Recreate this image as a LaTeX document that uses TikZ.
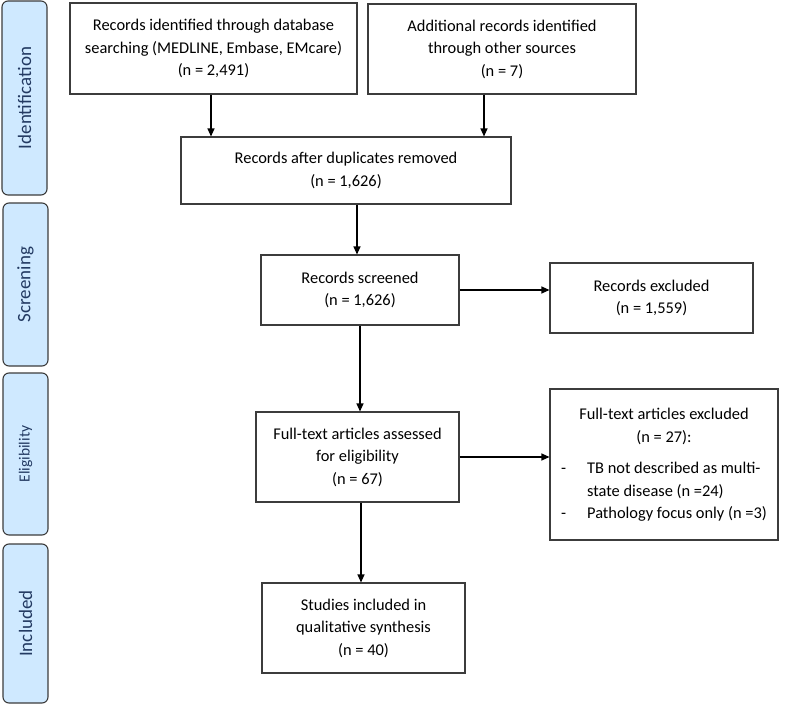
\documentclass[tikz,border=0pt]{standalone}
\usepackage{fontspec}
\setmainfont{Carlito}
\usepackage{tikz}
\usetikzlibrary{arrows.meta}

\definecolor{phasefill}{RGB}{207,233,255}
\definecolor{phasetext}{RGB}{35,58,98}
\definecolor{boxline}{RGB}{60,60,60}

\tikzset{
    flowbox/.style={draw=boxline, line width=1.1pt, align=center, inner sep=0pt,
        font=\fontsize{16.4}{22.5}\selectfont},
    phase/.style={draw=boxline, line width=1.1pt, fill=phasefill, rounded corners=6pt,
        rotate=90, inner sep=0pt, minimum height=45pt, text=phasetext},
    flowarrow/.style={-{Triangle[length=8pt,width=7pt]}, line width=1.2pt}
}

\begin{document}
\begin{tikzpicture}[x=1pt,y=-1pt]
    \useasboundingbox (0,0) rectangle (787,706);
    % stage labels
    \node[phase, minimum width=194pt, font=\fontsize{19}{22}\selectfont] (identification) at (24.5,98) {Identification};
    \node[phase, minimum width=163pt, font=\fontsize{19}{22}\selectfont] (screening) at (25.5,284.5) {Screening};
    \node[phase, minimum width=162pt, font=\fontsize{15.5}{20}\selectfont] (eligibility) at (25.5,454) {Eligibility};
    \node[phase, minimum width=159pt, font=\fontsize{19}{22}\selectfont] (included) at (25.5,623.5) {Included};
    % boxes
    \node[flowbox, minimum width=287pt, minimum height=91pt] (dbrec) at (213.5,48.5)
        {Records identified through database\\searching (MEDLINE, Embase, EMcare)\\(n = 2,491)};
    \node[flowbox, minimum width=268pt, minimum height=90pt] (otherrec) at (502,49)
        {Additional records identified\\through other sources\\(n = 7)};
    \node[flowbox, minimum width=330pt, minimum height=67pt] (dedup) at (346,170.5)
        {Records after duplicates removed\\(n = 1,626)};
    \node[flowbox, minimum width=198pt, minimum height=70pt] (screened) at (360,290)
        {Records screened\\(n = 1,626)};
    \node[flowbox, minimum width=203pt, minimum height=70pt] (excluded) at (651.5,298)
        {Records excluded\\(n = 1,559)};
    \node[flowbox, minimum width=203pt, minimum height=90pt] (fulltext) at (357.5,457)
        {Full-text articles assessed\\for eligibility\\(n = 67)};
    \node[flowbox, minimum width=228pt, minimum height=151pt] (ftexcl) at (664,464.5)
        {\begin{tabular}{@{}l@{\hspace{21pt}}l@{}}
        \multicolumn{2}{c}{Full-text articles excluded}\\
        \multicolumn{2}{c}{(n = 27):}\\[9pt]
        - & TB not described as multi-\\
          & state disease (n =24)\\
        - & Pathology focus only (n =3)
        \end{tabular}};
    \node[flowbox, minimum width=203pt, minimum height=90pt] (studies) at (363.5,628)
        {Studies included in\\qualitative synthesis\\(n = 40)};
    % arrows
    \draw[flowarrow] ([xshift=-2.5pt]dbrec.south) -- ([xshift=-2.5pt]dbrec.south |- dedup.north);
    \draw[flowarrow] ([xshift=-18pt]otherrec.south) -- ([xshift=-18pt]otherrec.south |- dedup.north);
    \draw[flowarrow] ([xshift=-3pt]screened.north |- dedup.south) -- ([xshift=-3pt]screened.north);
    \draw[flowarrow] (screened.east) -- (screened.east -| excluded.west);
    \draw[flowarrow] (screened.south) -- (screened.south |- fulltext.north);
    \draw[flowarrow] (fulltext.east) -- (fulltext.east -| ftexcl.west);
    \draw[flowarrow] ([xshift=-2.5pt]studies.north |- fulltext.south) -- ([xshift=-2.5pt]studies.north);
\end{tikzpicture}
\end{document}
